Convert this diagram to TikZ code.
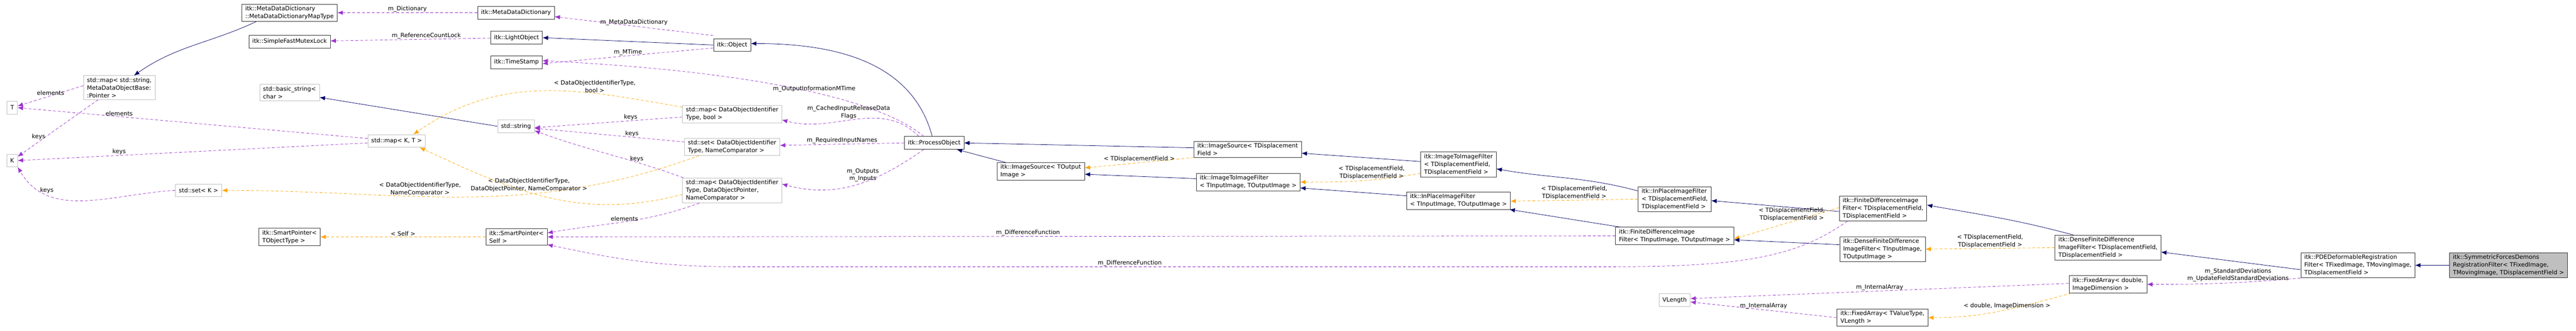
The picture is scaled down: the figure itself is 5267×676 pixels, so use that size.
\documentclass[tikz,border=0pt]{standalone}
\usepackage{fontspec}
\setmainfont{DejaVu Sans}
\usetikzlibrary{arrows.meta}
\colorlet{inhblue}{blue!40!black}
\definecolor{usepurple}{HTML}{9A32CD}
\definecolor{tplorange}{HTML}{FFA500}
\tikzset{cls/.style={draw=black!80,thick,fill=white,align=left,inner xsep=7pt,inner ysep=4pt,minimum height=26pt,
           font=\fontsize{12}{15.7}\selectfont},
         ext/.style={cls,draw=black!25},
         self/.style={cls,fill=black!25},
         lbl/.style={font=\fontsize{12}{15.7}\selectfont,align=center,inner sep=1pt},
         inh/.style={draw=inhblue,thick,-{Latex[length=11pt,width=9pt]}},
         use/.style={draw=usepurple,thick,dash pattern=on 6pt off 4pt,-{Latex[length=11pt,width=9pt]}},
         tpl/.style={draw=tplorange,thick,dash pattern=on 6pt off 4pt,-{Latex[length=11pt,width=9pt]}}
}
\begin{document}
\begin{tikzpicture}[x=1pt,y=-1pt]
  \useasboundingbox (0,0) rectangle (5267,676);
  % std and template leaves
  \node[ext] (T) at (25,220) {T};
  \node[ext] (K) at (25,328) {K};
  \node[ext] (strmap) at (244,179) {std::map< std::string,\\ MetaDataObjectBase:\\ :Pointer >};
  \node[ext] (setK) at (406,389) {std::set< K >};
  \node[ext] (mapKT) at (811,288) {std::map< K, T >};
  \node[ext] (bstr) at (592,189) {std::basic\_string<\\ char >};
  \node[ext] (str) at (1055,258) {std::string};
  \node[ext] (mapbool) at (1497,233) {std::map< DataObjectIdentifier\\ Type, bool >};
  \node[ext] (setnc) at (1497,300) {std::set< DataObjectIdentifier\\ Type, NameComparator >};
  \node[ext] (mapdop) at (1497,389) {std::map< DataObjectIdentifier\\ Type, DataObjectPointer,\\ NameComparator >};
  \node[ext] (vlen) at (3424,613) {VLength};
  % itk classes
  \node[cls] (mapty) at (592,26) {itk::MetaDataDictionary\\ ::MetaDataDictionaryMapType};
  \node[cls] (mutex) at (592,85) {itk::SimpleFastMutexLock};
  \node[cls] (spT) at (592,484) {itk::SmartPointer<\\ TObjectType >};
  \node[cls] (mdd) at (1055,26) {itk::MetaDataDictionary};
  \node[cls] (light) at (1056,77) {itk::LightObject};
  \node[cls] (tstamp) at (1056,127) {itk::TimeStamp};
  \node[cls] (obj) at (1497,92) {itk::Object};
  \node[cls] (spself) at (1056,484) {itk::SmartPointer<\\ Self >};
  \node[cls] (po) at (1910,292) {itk::ProcessObject};
  \node[cls] (isout) at (2128,350) {itk::ImageSource< TOutput\\ Image >};
  \node[cls] (isdf) at (2551,305) {itk::ImageSource< TDisplacement\\ Field >};
  \node[cls] (itiio) at (2552,372) {itk::ImageToImageFilter\\ < TInputImage, TOutputImage >};
  \node[cls] (itidf) at (2982,336) {itk::ImageToImageFilter\\ < TDisplacementField,\\ TDisplacementField >};
  \node[cls] (ipio) at (2982,410) {itk::InPlaceImageFilter\\ < TInputImage, TOutputImage >};
  \node[cls] (ipdf) at (3424,407) {itk::InPlaceImageFilter\\ < TDisplacementField,\\ TDisplacementField >};
  \node[cls] (fdio) at (3424,482) {itk::FiniteDifferenceImage\\ Filter< TInputImage, TOutputImage >};
  \node[cls] (fddf) at (3850,426) {itk::FiniteDifferenceImage\\ Filter< TDisplacementField,\\ TDisplacementField >};
  \node[cls] (dfdio) at (3849,509) {itk::DenseFiniteDifference\\ ImageFilter< TInputImage,\\ TOutputImage >};
  \node[cls] (dfddf) at (4310,506) {itk::DenseFiniteDifference\\ ImageFilter< TDisplacementField,\\ TDisplacementField >};
  \node[cls] (fadbl) at (4310,581) {itk::FixedArray< double,\\ ImageDimension >};
  \node[cls] (fatv) at (3849,649) {itk::FixedArray< TValueType,\\ VLength >};
  \node[cls] (pde) at (4821,542) {itk::PDEDeformableRegistration\\ Filter< TFixedImage, TMovingImage,\\ TDisplacementField >};
  \node[self] (sym) at (5129,542) {itk::SymmetricForcesDemons\\ RegistrationFilter< TFixedImage,\\ TMovingImage, TDisplacementField >};
  % left part
  \draw[use] (mdd) -- node[lbl,above,pos=.5]{m\_Dictionary} (mapty);
  \draw[use] (light) -- node[lbl,above,pos=.4]{m\_ReferenceCountLock} (mutex);
  \draw[inh] ([xshift=30pt]mapty.south west) to[out=205,in=35] ([xshift=30pt]strmap.north);
  \draw[use] ([yshift=4pt]strmap.west) -- node[lbl,above,pos=.5]{elements} (T);
  \draw[use] ([xshift=30pt]strmap.south west) -- node[lbl,left,pos=.65]{keys} (K);
  \draw[use] ([yshift=5pt]mapKT.west) -- node[lbl,above,pos=.71]{elements} (T.east);
  \draw[use] ([yshift=-4pt]mapKT.west) -- node[lbl,above,pos=.71]{keys} (K.east);
  \draw[use] (setK.west) to[out=183,in=-60] node[lbl,above,pos=.75]{keys} (K.south east);
  \draw[tpl] ([xshift=30pt]setnc.south west) to[out=200,in=0] node[lbl,above,pos=.6]{< DataObjectIdentifierType,\\ NameComparator >} (setK.east);
  \draw[tpl] ([yshift=-4pt]mapbool.north west) to[out=170,in=35] node[lbl,above,pos=.3]{< DataObjectIdentifierType,\\ bool >} ([xshift=-25pt]mapKT.north east);
  \draw[tpl] ([yshift=-8pt]mapdop.west) to[out=195,in=-25] node[lbl,above,pos=.58]{< DataObjectIdentifierType,\\ DataObjectPointer, NameComparator >} ([xshift=-12pt]mapKT.south east);
  \draw[inh] (str.west) -- ([yshift=-10pt]bstr.east);
  \draw[use] ([yshift=-6pt]mapbool.west) -- node[lbl,above,pos=.35]{keys} ([yshift=-3pt]str.east);
  \draw[use] ([yshift=10pt]setnc.west) -- node[lbl,above,pos=.35]{keys} ([yshift=-4pt]str.east);
  \draw[use] ([xshift=2pt]mapdop.north west) to[out=160,in=-20] node[lbl,above,pos=.3]{keys} ([yshift=-9pt]str.east);
  \draw[use] ([xshift=35pt]mapdop.south west) to[out=200,in=10] node[lbl,above,pos=.5]{elements} ([yshift=8pt]spself.east);
  \draw[tpl] (spself) -- node[lbl,above,pos=.5]{< Self >} (spT);
  % itk::Object and ProcessObject
  \draw[use] ([yshift=6pt]obj.north west) -- node[lbl,above,pos=.5]{m\_MetaDataDictionary} ([yshift=-8pt]mdd.east);
  \draw[inh] (obj.west) -- (light.east);
  \draw[use] ([yshift=-6pt]obj.west) -- node[lbl,above,pos=.5]{m\_MTime} ([yshift=-3pt]tstamp.east);
  \draw[use] ([xshift=40pt]po.north west) .. controls (1820,220) and (1620,150) .. node[lbl,above,pos=.5]{m\_OutputInformationMTime} ([yshift=3pt]tstamp.east);
  \draw[inh] ([xshift=-4pt]po.north) to[out=105,in=0] ([yshift=3pt]obj.east);
  \draw[use] ([xshift=30pt]po.north west) to[out=135,in=-15] node[lbl,above,pos=.55]{m\_CachedInputReleaseData\\ Flags} ([yshift=-12pt]mapbool.east);
  \draw[use] (po.west) -- node[lbl,above,pos=.5]{m\_RequiredInputNames} ([yshift=3pt]setnc.east);
  \draw[use] ([xshift=40pt]po.south west) to[out=215,in=-15] node[lbl,above,pos=.45]{m\_Outputs\\ m\_Inputs} ([yshift=13pt]mapdop.east);
  % image filter hierarchy
  \draw[inh] ([yshift=3pt]isdf.west) -- (po.east);
  \draw[inh] ([xshift=18pt]isout.north west) -- ([xshift=-15pt]po.south east);
  \draw[tpl] ([yshift=-17pt]isdf.west) -- node[lbl,above,pos=.5]{< TDisplacementField >} ([yshift=7pt]isout.east);
  \draw[inh] ([yshift=7pt]itiio.west) -- ([yshift=-6pt]isout.east);
  \draw[inh] ([yshift=6pt]itidf.west) -- ([yshift=-8pt]isdf.east);
  \draw[tpl] ([yshift=-18pt]itidf.west) to[out=190,in=0] node[lbl,above,pos=.4]{< TDisplacementField,\\ TDisplacementField >} (itiio.east);
  \draw[inh] ([yshift=10pt]ipio.west) -- ([yshift=-12pt]itiio.east);
  \draw[inh] ([yshift=-9pt]ipdf.north west) to[out=165,in=-10] ([yshift=-9pt]itidf.east);
  \draw[tpl] (ipdf.west) -- node[lbl,above,pos=.5]{< TDisplacementField,\\ TDisplacementField >} ([yshift=-1pt]ipio.east);
  \draw[inh] ([xshift=10pt]fdio.north west) -- ([xshift=-2pt]ipio.south east);
  \draw[use] (fdio.west) -- node[lbl,above,pos=.55]{m\_DifferenceFunction} (spself.east);
  \draw[use] ([xshift=17pt]fddf.south west) .. controls (3680,520) and (3580,545) .. (3300,545) -- node[lbl,above,pos=.55]{m\_DifferenceFunction} (1500,545) .. controls (1320,545) and (1220,520) .. ([yshift=-16pt]spself.east);
  \draw[inh] ([yshift=-6pt]fddf.west) -- ([yshift=-3pt]ipdf.east);
  \draw[tpl] ([yshift=-24pt]fddf.north west) -- node[lbl,above,pos=.45]{< TDisplacementField,\\ TDisplacementField >} ([yshift=-6pt]fdio.east);
  \draw[inh] ([yshift=9pt]dfdio.west) -- ([yshift=-8pt]fdio.east);
  \draw[inh] ([xshift=38pt]dfddf.north west) to[out=165,in=-10] ([yshift=7pt]fddf.east);
  \draw[tpl] (dfddf.west) -- node[lbl,above,pos=.5]{< TDisplacementField,\\ TDisplacementField >} (dfdio.east);
  \draw[inh] ([yshift=-9pt]pde.west) -- ([yshift=-9pt]dfddf.east);
  \draw[use] ([yshift=-26pt]pde.west) to[out=185,in=0] node[lbl,above,pos=.4]{m\_StandardDeviations\\ m\_UpdateFieldStandardDeviations} (fadbl.east);
  \draw[inh] (sym) -- (pde);
  % fixed arrays
  \draw[use] ([yshift=2pt]fadbl.west) -- node[lbl,above,pos=.5]{m\_InternalArray} ([yshift=3pt]vlen.east);
  \draw[use] (fatv.west) -- node[lbl,above,pos=.5]{m\_InternalArray} ([yshift=-4pt]vlen.east);
  \draw[tpl] ([xshift=5pt]fadbl.south west) to[out=195,in=0] node[lbl,above,pos=.45]{< double, ImageDimension >} (fatv.east);
\end{tikzpicture}
\end{document}
